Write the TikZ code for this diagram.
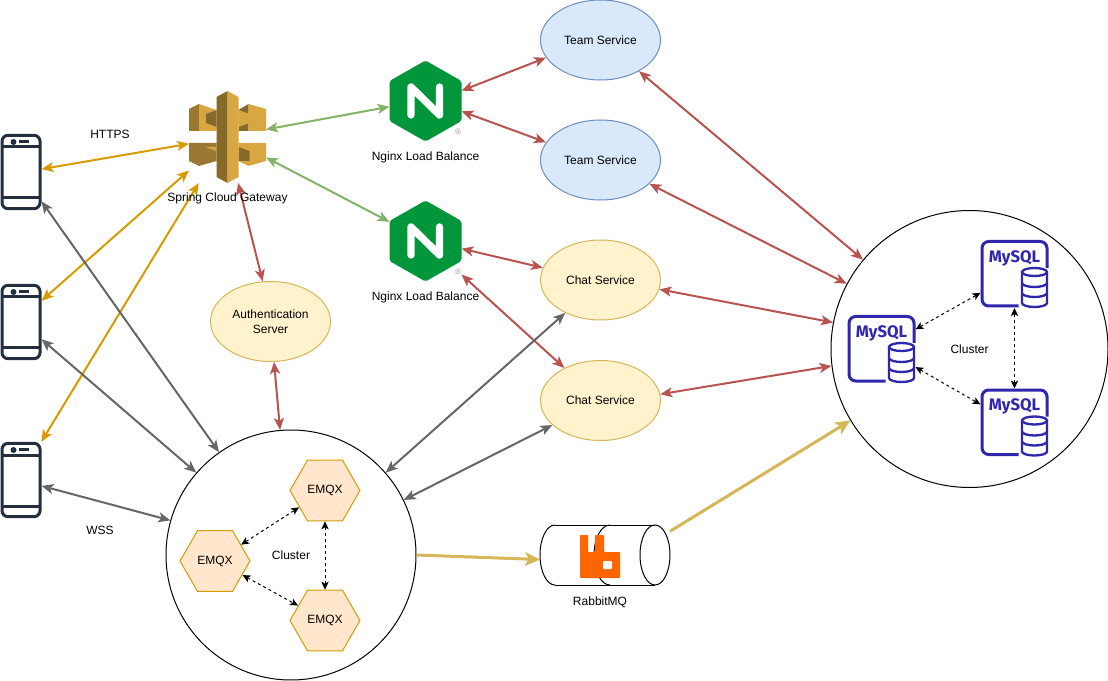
\documentclass[tikz,border=0pt]{standalone}
\usepackage{fontspec}
\setmainfont{Liberation Sans}
\newfontfamily\mysqlfont{Fira Sans}
\usetikzlibrary{positioning, arrows.meta, shapes.geometric}

\definecolor{teamfill}{HTML}{DAE8FC}
\definecolor{teamline}{HTML}{6C8EBF}
\definecolor{chatfill}{HTML}{FFF2CC}
\definecolor{chatline}{HTML}{D6B656}
\definecolor{emqxfill}{HTML}{FFE6CC}
\definecolor{orangeline}{HTML}{D79B00}
\definecolor{redline}{HTML}{B85450}
\definecolor{greenline}{HTML}{82B366}
\definecolor{grayline}{HTML}{666666}
\definecolor{phoneblue}{HTML}{232F3E}
\definecolor{nginxgreen}{HTML}{009639}
\definecolor{rabbitorange}{HTML}{FF6600}
\definecolor{mysqlblue}{HTML}{2E27AD}
\definecolor{gatelight}{HTML}{D9A741}
\definecolor{gatemid}{HTML}{9A7832}
\definecolor{gatedark}{HTML}{876929}

\tikzset{
    phonebits/.pic={
        \draw[phoneblue, line width=2.25pt] (-19,-25) -- (19,-25);
        \draw[phoneblue, line width=2.25pt] (-19,26) -- (19,26);
        \fill[phoneblue] (-7.5,-30) circle[radius=3];
        \draw[phoneblue, line width=2.25pt] (-2,-30.5) -- (8,-30.5);
    },
    gatewaylogo/.pic={
        % upper arms
        \fill[gatemid]   (-38.5,-28) -- (-28.5,-33) -- (-28.5,-6) -- (-38.5,-6) -- cycle;
        \fill[gatelight] (-28.5,-33) -- (-11,-27) -- (-22,-23) -- (-22,-14) -- (-11,-10) -- (-11,-6) -- (-28.5,-6) -- cycle;
        \fill[gatedark]  (-22,-23) -- (-11,-27) -- (-11,-10) -- (-22,-14) -- cycle;
        \fill[gatedark]  (11,-27) -- (21,-33) -- (21,-6) -- (11,-6) -- cycle;
        \fill[gatelight] (21,-33) -- (38.5,-28) -- (38.5,-6) -- (21,-6) -- cycle;
        \fill[gatelight] (11,-27) -- (22,-23) -- (22,-14) -- (11,-10) -- cycle;
        % lower arms
        \fill[gatemid]   (-38.5,6) -- (-11,6) -- (-11,24) -- (-28.5,29) -- (-38.5,24) -- cycle;
        \fill[gatelight] (-22,10) -- (-11,10) -- (-11,14) -- cycle;
        \fill[gatelight] (11,6) -- (38.5,6) -- (38.5,24) -- (21,29) -- (11,24) -- cycle;
        \fill[gatedark]  (11,10) -- (22,14) -- (22,24) -- (11,24) -- cycle;
        % centre column
        \fill[gatedark]  (0,-46) -- (-11,-40) -- (-11,40) -- (0,46) -- cycle;
        \fill[gatelight] (0,-46) -- (11,-40) -- (11,40) -- (0,46) -- cycle;
    },
    nginxlogo/.pic={
        \fill[nginxgreen, rounded corners=1.5pt] (0,-40.5) -- (36,-20) -- (36,20) -- (0,40.5) -- (-36,20) -- (-36,-20) -- cycle;
        \draw[white, line width=5.5pt, line cap=round, line join=round]
            (-14.5,14) -- (-14.5,-14) -- (14,14) -- (14,-14);
        \node[text=black!40, font=\fontsize{6}{7}\selectfont, inner sep=0pt] at (32.5,31) {®};
    },
    mysqllogo/.pic={
        \draw[mysqlblue, line width=2.25pt, rounded corners=5pt]
            (32.5,-6) -- (32.5,-32.5) -- (-32.5,-32.5) -- (-32.5,32) -- (4,32);
        \node[text=mysqlblue, font=\mysqlfont\fontsize{12.5}{14}\selectfont\bfseries, inner sep=0pt] at (0,-16) {MySQL};
        \draw[mysqlblue, line width=1.75pt, fill=white] (20,-2) ellipse[x radius=12.5, y radius=4];
        \draw[mysqlblue, line width=1.75pt] (7.5,-2) -- (7.5,29) arc[start angle=180, end angle=0, x radius=12.5, y radius=4] -- (32.5,-2);
        \draw[mysqlblue, line width=1.75pt] (7.5,9) arc[start angle=180, end angle=0, x radius=12.5, y radius=4];
        \draw[mysqlblue, line width=1.75pt] (7.5,19) arc[start angle=180, end angle=0, x radius=12.5, y radius=4];
    },
    rabbitlogo/.pic={
        \draw[line width=0.75pt] (-50,-30) -- (50,-30);
        \draw[line width=0.75pt] (-50,30) -- (50,30);
        \draw[line width=0.75pt] (-50,-30) arc[start angle=270, end angle=90, x radius=15, y radius=30];
        \draw[line width=0.75pt] (5,-30) arc[start angle=270, end angle=90, x radius=16, y radius=30];
        \draw[line width=0.75pt] (50,0) ellipse[x radius=15, y radius=30];
        \fill[rabbitorange, rounded corners=0.6pt] (-25,-20) -- (-17,-20) -- (-17,-3) -- (-10,-3) -- (-10,-20)
            -- (-1,-20) -- (-1,-3) -- (15,-3) -- (15,23) -- (-25,23) -- cycle;
        \fill[white, rounded corners=0.8pt] (-2,6) rectangle (7,14);
    }
}

\begin{document}
\begin{tikzpicture}[
    x=0.75pt, y=-0.75pt,
    font=\fontsize{9}{11}\selectfont,
    service/.style={
        ellipse, draw, line width=0.75pt,
        minimum width=90pt, minimum height=60pt,
        inner sep=0pt, align=center
    },
    team/.style={service, fill=teamfill, draw=teamline},
    chat/.style={service, fill=chatfill, draw=chatline},
    cluster/.style={circle, draw, line width=0.75pt, inner sep=0pt},
    emqx/.style={
        regular polygon, regular polygon sides=6,
        draw=orangeline, fill=emqxfill, line width=0.75pt,
        minimum size=52.5pt, inner sep=0pt
    },
    phone/.style={
        rectangle, draw=phoneblue, line width=2.25pt, rounded corners=4.5pt,
        minimum width=28.5pt, minimum height=55pt, inner sep=0pt
    },
    logobox/.style={rectangle, inner sep=0pt, outer sep=0pt},
    caption/.style={inner sep=0pt},
    link/.style={<->, line width=1.5pt, >={Stealth[length=9pt, width=7.5pt, inset=2.25pt]}},
    orangelink/.style={link, orangeline},
    graylink/.style={link, grayline},
    greenlink/.style={link, greenline},
    redlink/.style={link, redline},
    peerlink/.style={<->, line width=0.75pt, dash pattern=on 2.25pt off 2.25pt,
        >={Stealth[length=6pt, width=5.5pt, inset=1.5pt]}},
    queuelink/.style={->, line width=2.25pt, chatline,
        >={Stealth[length=11pt, width=10pt, inset=2.5pt]}}
]

\useasboundingbox (0,0) rectangle (1108,681);

%% ─── PHONES ─────────────────────────────────────────────────────────────

\node[phone] (phone1) at (21,172) {};
\node[phone] (phone2) at (21,322) {};
\node[phone] (phone3) at (21,480) {};
\pic at (phone1) {phonebits};
\pic at (phone2) {phonebits};
\pic at (phone3) {phonebits};

%% ─── GATEWAY AND LOAD BALANCERS ─────────────────────────────────────────

\pic at (227.5,137) {gatewaylogo};
\node[logobox, minimum width=57.75pt, minimum height=69pt] (gateway) at (227.5,137) {};

\pic at (425.5,101) {nginxlogo};
\pic at (425.5,241) {nginxlogo};
\node[logobox, minimum width=54pt, minimum height=60.75pt] (nginx1) at (425.5,101) {};
\node[logobox, minimum width=54pt, minimum height=60.75pt] (nginx2) at (425.5,241) {};

%% ─── SERVICES ───────────────────────────────────────────────────────────

\node[team] (team1) at (600.5,40)  {Team Service};
\node[team] (team2) at (600.5,160) {Team Service};
\node[chat] (chat1) at (600.5,280) {Chat Service};
\node[chat] (chat2) at (600.5,400.5) {Chat Service};
\node[chat] (auth)  at (270.5,321.5) {Authentication\\Server};

%% ─── EMQX CLUSTER ───────────────────────────────────────────────────────

\node[cluster, minimum size=187.5pt] (emqxbox) at (291,555) {};
\node[caption] at (291,555) {Cluster};
\node[emqx] (emqx1) at (325,490.5) {EMQX};
\node[emqx] (emqx2) at (215,561)   {EMQX};
\node[emqx] (emqx3) at (325,620.5) {EMQX};

%% ─── MYSQL CLUSTER ──────────────────────────────────────────────────────

\node[cluster, minimum size=207.75pt] (dbbox) at (969.5,349) {};
\node[caption] at (969.5,349) {Cluster};
\pic at (1014.5,274)   {mysqllogo};
\pic at (881.5,349)    {mysqllogo};
\pic at (1014.5,422.5) {mysqllogo};
\node[logobox, minimum size=51pt] (mysql1) at (1014.5,274)   {};
\node[logobox, minimum size=51pt] (mysql2) at (881.5,349)    {};
\node[logobox, minimum size=51pt] (mysql3) at (1014.5,422.5) {};

%% ─── QUEUE ──────────────────────────────────────────────────────────────

\pic at (605,555) {rabbitlogo};
\node[logobox, minimum width=97.5pt, minimum height=45pt] (rabbit) at (605,555) {};

%% ─── CONNECTORS ─────────────────────────────────────────────────────────

% phones to gateway
\draw[orangelink] (phone1.8)  -- (gateway.190);
\draw[orangelink] (phone2.46) -- (gateway.221.5);
\draw[orangelink] (phone3.62) -- (gateway.238.8);

% phones to EMQX
\draw[graylink] (phone1.-55)   -- (emqxbox.125.3);
\draw[graylink] (phone2.-40.6) -- (emqxbox.139.2);
\draw[graylink] (phone3.-16)   -- (emqxbox.164.3);

% gateway to load balancers
\draw[greenlink] (gateway.11.7)  -- (nginx1.189.3);
\draw[greenlink] (gateway.-28.6) -- (nginx2.152.5);

% auth
\draw[redlink] (gateway.-77.7) -- (auth.101.3);
\draw[redlink] (auth.-85.7)    -- (emqxbox.95.5);

% load balancers to services
\draw[redlink] (nginx1.16.8)  -- (team1.198.9);
\draw[redlink] (nginx1.-16.8) -- (team2.162.3);
\draw[redlink] (nginx2.-12.4) -- (chat1.168.2);
\draw[redlink] (nginx2.-43)   -- (chat2.138.2);

% services to database
\draw[redlink] (team1.-39.6) -- (dbbox.140);
\draw[redlink] (team2.-26.8) -- (dbbox.152.6);
\draw[redlink] (chat1.-9.7)  -- (dbbox.169.3);
\draw[redlink] (chat2.6.6)   -- (dbbox.187.9);

% services to EMQX
\draw[graylink] (chat1.223.7) -- (emqxbox.41.4);
\draw[graylink] (chat2.207.3) -- (emqxbox.26.8);

% queue
\draw[queuelink] (emqxbox.0)    -- (rabbit.184.4);
\draw[queuelink] (rabbit.20.3)  -- (dbbox.211);

% inside the clusters
\draw[peerlink] (emqx2.32.6)  -- (emqx1.213.4);
\draw[peerlink] (emqx2.-27.4) -- (emqx3.151);
\draw[peerlink] (emqx1.270)   -- (emqx3.90);

\draw[peerlink] (mysql2.30)    -- (mysql1.209.4);
\draw[peerlink] (mysql2.-28.8) -- (mysql3.152.5);
\draw[peerlink] (mysql1.south) -- (mysql3.north);

%% ─── LABELS ─────────────────────────────────────────────────────────────

\node[caption] (httpslabel) at (110,134) {HTTPS};
\node[caption] (wsslabel)   at (100,530) {WSS};
\node[caption, below=7pt of gateway] (gatewaylabel) {Spring Cloud Gateway};
\node[caption, below=7.5pt of nginx1]  (nginx1label)  {Nginx Load Balance};
\node[caption, below=7.5pt of nginx2]  (nginx2label)  {Nginx Load Balance};
\node[caption, below=9pt of rabbit, xshift=-3.75pt]  (rabbitlabel)  {RabbitMQ};

\end{tikzpicture}
\end{document}
